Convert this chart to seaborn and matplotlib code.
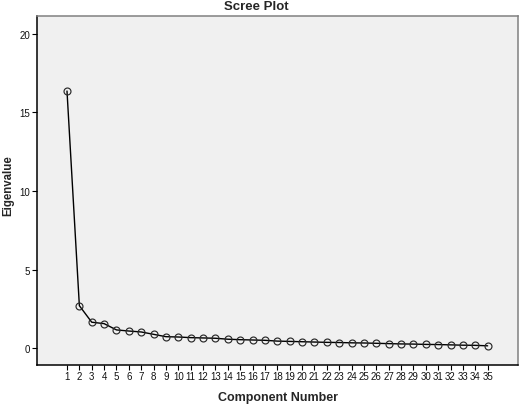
import matplotlib
matplotlib.use("Agg")
import matplotlib.pyplot as plt
import seaborn as sns
import pandas as pd

components = list(range(1, 36))
eigenvalues = [16.35, 2.71, 1.66, 1.57, 1.17, 1.10, 1.04, 0.89, 0.74, 0.72,
               0.68, 0.66, 0.64, 0.58, 0.55, 0.53, 0.51, 0.46, 0.44, 0.42,
               0.40, 0.38, 0.37, 0.35, 0.34, 0.32, 0.30, 0.28, 0.27, 0.25,
               0.24, 0.22, 0.20, 0.19, 0.16]
y_ticks = [0, 5, 10, 15, 20]

sns.set_style("white")
plt.rcParams['font.family'] = ['Liberation Sans', 'DejaVu Sans']

df = pd.DataFrame({"Component Number": components, "Eigenvalue": eigenvalues})

fig = plt.figure(figsize=(5.2, 4.06), dpi=100)
ax_left, ax_right, ax_top, ax_bottom = 37.3, 517.7, 17.3, 365.7
ax = fig.add_axes([ax_left / 520, 1 - ax_bottom / 406,
                   (ax_right - ax_left) / 520, (ax_bottom - ax_top) / 406])
ax.set_facecolor("#f0f0f0")

sns.lineplot(data=df, x="Component Number", y="Eigenvalue", ax=ax,
             color="black", linewidth=1.0, marker="o", markersize=5.0,
             markerfacecolor="none", markeredgecolor="#2a2a2a", markeredgewidth=0.85)

ax.set_xlim(-1.4, 37.43)
ax.set_ylim(-1.04, 21.1)
ax.set_xticks(components)
ax.set_xticklabels([str(c) for c in components])
ax.set_yticks(y_ticks)
ax.set_yticklabels([str(v) for v in y_ticks])
ax.tick_params(axis="both", direction="out", length=3.6, width=0.8, color="black",
               labelsize=7, pad=1.5, labelcolor="#111111")
ax.tick_params(axis="x", bottom=True, pad=1.0)
ax.tick_params(axis="y", left=True)

for side in ["left", "bottom"]:
    ax.spines[side].set_color("black")
    ax.spines[side].set_linewidth(1.1)
for side in ["top", "right"]:
    ax.spines[side].set_visible(True)
    ax.spines[side].set_color("#808080")
    ax.spines[side].set_linewidth(1.1)

ax.set_xlabel("Component Number", fontsize=9, fontweight="bold", labelpad=7)
ax.set_ylabel("Eigenvalue", fontsize=8.3, fontweight="bold")
ax.yaxis.set_label_coords((14 - ax_left) / (ax_right - ax_left),
                          (ax_bottom - 186) / (ax_bottom - ax_top))
fig.text(256 / 520, 1 - 7 / 406, "Scree Plot", ha="center", va="center",
         fontsize=9.5, fontweight="bold")

fig.savefig("out.png", dpi=100, facecolor="white")
